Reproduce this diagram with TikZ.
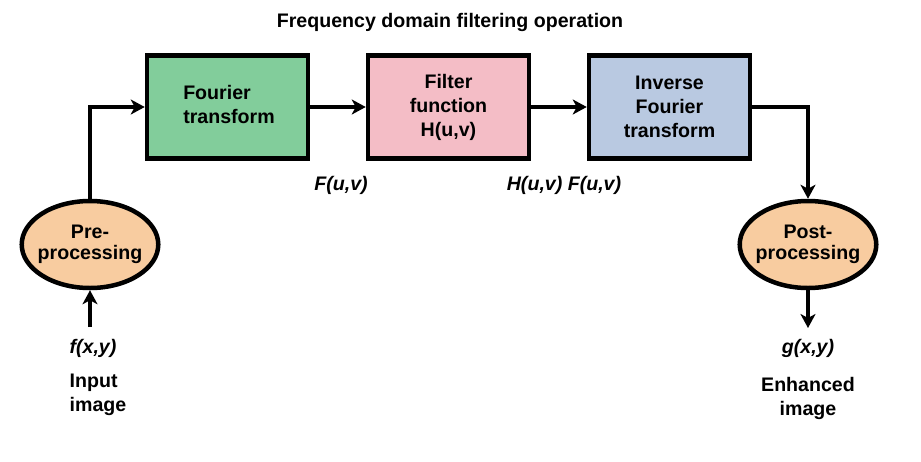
\documentclass[tikz,border=0pt]{standalone}
\usepackage{fontspec}
\setmainfont{Liberation Sans}
\usetikzlibrary{shapes.geometric,arrows.meta}
\definecolor{boxgreen}{HTML}{82CD9B}
\definecolor{boxpink}{HTML}{F4BDC6}
\definecolor{boxblue}{HTML}{B9C9E1}
\definecolor{ellpeach}{HTML}{F8CCA0}
\tikzset{
  txt/.style={font=\fontsize{19.6}{24}\selectfont\bfseries, inner sep=0pt},
  itxt/.style={font=\fontsize{19.6}{24}\selectfont\bfseries\itshape, inner sep=0pt},
  blockbox/.style={draw=black, line width=4.5pt, rectangle, minimum width=161pt, minimum height=103pt, inner sep=0pt, align=center, font=\fontsize{19.6}{24}\selectfont\bfseries},
  procell/.style={draw=black, line width=4.5pt, ellipse, fill=ellpeach, minimum width=132pt, minimum height=87pt, inner xsep=-4pt, inner ysep=0pt, align=center, font=\fontsize{19.6}{21}\selectfont\bfseries},
  arr/.style={line width=4.5pt, -{Stealth[length=14pt,width=15pt,inset=4pt]}},
}
\begin{document}
\begin{tikzpicture}[x=1pt,y=-1pt]
\useasboundingbox (0,0) rectangle (921,461);
\node[txt] (title) at (450,22) {Frequency domain filtering operation};
\node[blockbox, fill=boxgreen] (ft) at (227.5,107) {};
\node[txt, align=left] (fttext) at (229,104) {Fourier\\transform};
\node[blockbox, fill=boxpink] (filt) at (448.5,107) {Filter\\function\\H(u,v)};
\node[blockbox, fill=boxblue] (ift) at (669.5,107) {Inverse\\Fourier\\transform};
\node[procell] (pre) at (90,244.5) {Pre-\\processing};
\node[procell] (post) at (808,244.5) {Post-\\processing};
\node[itxt] (lab1) at (341,185) {F(u,v)};
\node[itxt] (lab2) at (564,185) {H(u,v) F(u,v)};
\node[itxt] (fxy) at (93,348) {f(x,y)};
\node[txt, align=left] (inp) at (98,395) {Input\\image};
\node[itxt] (gxy) at (808,348) {g(x,y)};
\node[txt, align=center] (enh) at (808,398) {Enhanced\\image};
\coordinate (fin) at (90,327);
\coordinate (gout) at (808,328);
\draw[arr] (pre.north) |- (ft.west);
\draw[arr] (ft.east) -- (filt.west);
\draw[arr] (filt.east) -- (ift.west);
\draw[arr] (ift.east) -| (post.north);
\draw[arr] (fin) -- (pre.south);
\draw[arr] (post.south) -- (gout);
\end{tikzpicture}
\end{document}
